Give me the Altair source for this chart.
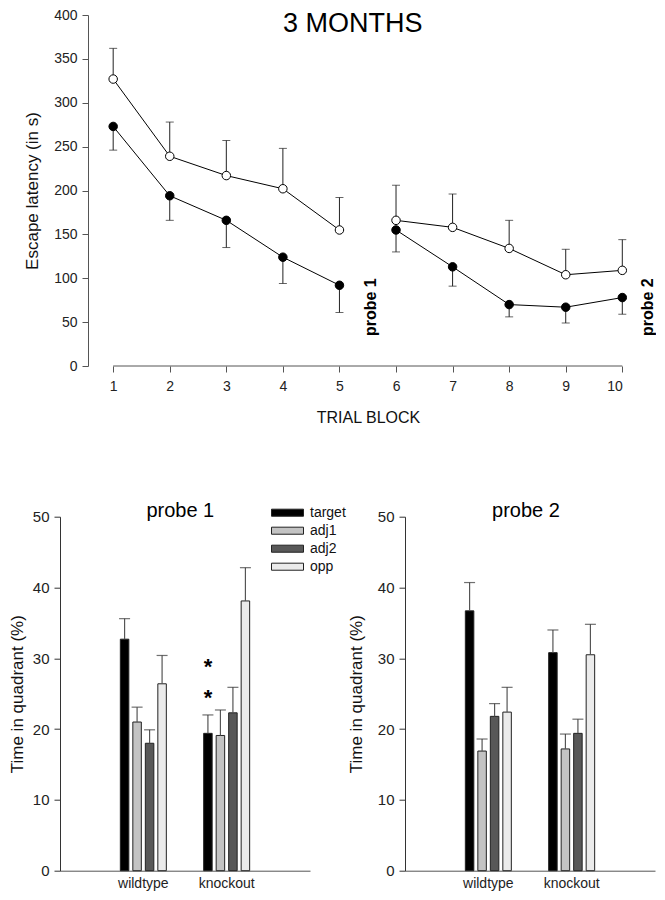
import altair as alt
import pandas as pd

FONT = "Liberation Sans"

# ---------------- top panel data ----------------
trial_blocks = [1, 2, 3, 4, 5, 6, 7, 8, 9, 10]
block_segment = [1, 1, 1, 1, 1, 2, 2, 2, 2, 2]
open_mean = [327, 239, 217, 202, 155, 166, 158, 134, 104, 109]
open_upper = [362, 278, 257, 248, 192, 206, 196, 166, 133, 144]
filled_mean = [273, 194, 166, 124, 92, 155, 113, 70, 67, 78]
filled_lower = [246, 166, 135, 94, 61, 130, 91, 56, 49, 59]
y_ticks_top = [0, 50, 100, 150, 200, 250, 300, 350, 400]

top_title = ["3 MONTHS"]
probe_text = ["probe 1", "probe 2"]
probe_text_x = [5.55, 10.45]
probe_text_y = [67, 67]

# ---------------- bottom panels data ----------------
genotypes = ["wildtype", "knockout"]
quadrants = ["target", "adj1", "adj2", "opp"]
quadrant_colors = ["#000000", "#c3c3c3", "#585858", "#ebebeb"]

p1_wt_mean = [32.7, 21.0, 18.0, 26.4]
p1_wt_upper = [35.6, 23.1, 19.9, 30.4]
p1_ko_mean = [19.4, 19.1, 22.3, 38.1]
p1_ko_upper = [22.0, 22.7, 25.9, 42.8]

p2_wt_mean = [36.7, 16.9, 21.8, 22.4]
p2_wt_upper = [40.7, 18.6, 23.6, 25.9]
p2_ko_mean = [30.8, 17.2, 19.4, 30.5]
p2_ko_upper = [34.0, 19.3, 21.4, 34.8]

asterisk_y = [29.6, 25.1]
y_ticks_bottom = [0, 10, 20, 30, 40, 50]

# ---------------- top panel ----------------
rows = []
for i, b in enumerate(trial_blocks):
    rows.append(dict(block=b, grp="knockout", mean=open_mean[i], bound=open_upper[i],
                     seg=block_segment[i]))
    rows.append(dict(block=b, grp="wildtype", mean=filled_mean[i], bound=filled_lower[i],
                     seg=block_segment[i]))
top_df = pd.DataFrame(rows)

xs = alt.Scale(domain=[0.06, 10], nice=False, zero=False)
ys = alt.Scale(domain=[0, 400], nice=False)

x_enc = alt.X("block:Q", scale=xs, axis=alt.Axis(
    values=trial_blocks, format="d", domain=False, grid=False, tickSize=6, tickColor="#555",
    labelFontSize=14, labelPadding=7, labelColor="#222", title="TRIAL BLOCK",
    titleFontSize=16, titleFontWeight="normal", titleColor="#111",
    titleX=308, titleY=56, titleBaseline="alphabetic", titleAlign="center"))
y_enc = alt.Y("mean:Q", scale=ys, axis=alt.Axis(
    values=y_ticks_top, offset=-28, grid=False, tickSize=6, tickColor="#555",
    domainColor="#555", labelFontSize=14, labelPadding=5, labelColor="#222",
    title="Escape latency (in s)", titleFontSize=17, titleFontWeight="normal",
    titleColor="#111", titlePadding=12))

base = alt.Chart(top_df)

axis_line = alt.Chart(pd.DataFrame({"x": [min(trial_blocks)], "x2": [max(trial_blocks)],
                                    "y": [0]})).mark_rule(color="#555", strokeWidth=1).encode(
    x=alt.X("x:Q", scale=xs), x2="x2:Q", y=alt.Y("y:Q", scale=ys))

err = base.mark_rule(color="#222", strokeWidth=1).encode(x=x_enc, y=y_enc, y2="bound:Q")
caps = base.mark_tick(orient="horizontal", size=8, thickness=1, color="#222").encode(
    x=alt.X("block:Q", scale=xs), y=alt.Y("bound:Q", scale=ys))
lines = base.mark_line(color="#000", strokeWidth=1).encode(
    x=alt.X("block:Q", scale=xs), y=alt.Y("mean:Q", scale=ys), detail=["grp:N", "seg:Q"])
pts = base.mark_point(filled=True, shape="circle", size=72, stroke="#000", strokeWidth=1,
                      opacity=1).encode(
    x=alt.X("block:Q", scale=xs), y=alt.Y("mean:Q", scale=ys),
    fill=alt.Fill("grp:N", scale=alt.Scale(domain=["knockout", "wildtype"],
                                           range=["#ffffff", "#000000"]), legend=None))
probe_lbl = alt.Chart(pd.DataFrame({"t": probe_text, "x": probe_text_x, "y": probe_text_y})).mark_text(
    angle=270, fontSize=16, fontWeight="bold", font=FONT, color="#000").encode(
    x=alt.X("x:Q", scale=xs), y=alt.Y("y:Q", scale=ys), text="t:N")
title_top = alt.Chart(pd.DataFrame({"t": top_title})).mark_text(
    fontSize=27, font=FONT, color="#000", baseline="alphabetic", align="center").encode(
    x=alt.value(292.8), y=alt.value(17), text="t:N")

top = alt.layer(axis_line, err, caps, lines, pts, probe_lbl, title_top).properties(
    width=562.3, height=351)

# ---------------- bottom panels ----------------
def probe_df(wt_mean, wt_upper, ko_mean, ko_upper):
    r = []
    for g, m, u in (("wildtype", wt_mean, wt_upper), ("knockout", ko_mean, ko_upper)):
        for q, mv, uv in zip(quadrants, m, u):
            r.append(dict(genotype=g, quadrant=q, mean=mv, upper=uv))
    return pd.DataFrame(r)


def probe_panel(name, df, show_legend, stars, title_pad, title_x):
    bx = alt.X("genotype:N", sort=genotypes,
               scale=alt.Scale(paddingInner=0.4, paddingOuter=0.7),
               axis=alt.Axis(title=None, labelAngle=0, ticks=False, labelFontSize=14,
                             labelPadding=6, labelColor="#222", domainColor="#555",
                             bandPosition=0.5, labelAlign="center"))
    bxo = alt.XOffset("quadrant:N", sort=quadrants,
                      scale=alt.Scale(paddingInner=0.32, paddingOuter=0.16))
    bys = alt.Scale(domain=[0, 50], nice=False)
    by = alt.Y("mean:Q", scale=bys, axis=alt.Axis(
        values=y_ticks_bottom, grid=False, tickSize=6, tickColor="#333", domainColor="#333",
        labelFontSize=15, labelPadding=5, labelColor="#222",
        title="Time in quadrant (%)", titleFontSize=17, titleFontWeight="normal",
        titleColor="#111", titlePadding=title_pad))
    if show_legend:
        leg = alt.Legend(title=None, orient="none", legendX=211, legendY=-12,
                         symbolType="M-1,-0.22L1,-0.22L1,0.22L-1,0.22Z", symbolSize=1024,
                         symbolStrokeColor="#222", symbolStrokeWidth=1, symbolOpacity=1,
                         clipHeight=16, labelFontSize=14, labelOffset=6, labelColor="#111",
                         rowPadding=2, padding=0)
    else:
        leg = None
    col = alt.Color("quadrant:N", scale=alt.Scale(domain=quadrants, range=quadrant_colors),
                    legend=leg)
    c = alt.Chart(df)
    bars = c.mark_bar(stroke="#222", strokeWidth=1).encode(x=bx, xOffset=bxo, y=by, color=col)
    ebar = c.mark_rule(color="#555", strokeWidth=1.2).encode(
        x=alt.X("genotype:N", sort=genotypes), xOffset=alt.XOffset("quadrant:N", sort=quadrants),
        y=alt.Y("mean:Q", scale=bys), y2="upper:Q")
    ecap = c.mark_tick(size=11, thickness=1.2, color="#333").encode(
        x=alt.X("genotype:N", sort=genotypes), xOffset=alt.XOffset("quadrant:N", sort=quadrants),
        y=alt.Y("upper:Q", scale=bys))
    ttl = alt.Chart(pd.DataFrame({"t": [name]})).mark_text(
        fontSize=20, font=FONT, color="#000", baseline="alphabetic", align="center").encode(
        x=alt.value(title_x), y=alt.value(0), text="t:N")
    layers = [bars, ebar, ecap, ttl]
    if stars:
        sdf = pd.DataFrame({"genotype": ["knockout"] * len(asterisk_y),
                            "quadrant": ["target"] * len(asterisk_y), "y": asterisk_y})
        st = alt.Chart(sdf).mark_text(text="*", fontSize=22, fontWeight="bold", font=FONT,
                                      dy=12.5, baseline="alphabetic", color="#000").encode(
            x=alt.X("genotype:N", sort=genotypes),
            xOffset=alt.XOffset("quadrant:N", sort=quadrants),
            y=alt.Y("y:Q", scale=bys))
        layers.append(st)
    return alt.layer(*layers).properties(width=250, height=354)


p1 = probe_panel("probe 1", probe_df(p1_wt_mean, p1_wt_upper, p1_ko_mean, p1_ko_upper),
                 True, True, 6, 120.3)
p2 = probe_panel("probe 2", probe_df(p2_wt_mean, p2_wt_upper, p2_ko_mean, p2_ko_upper),
                 False, False, 12, 121)

bottom = alt.hconcat(p1, p2, spacing=95, bounds="flush").resolve_scale(color="independent")

chart = alt.vconcat(top, bottom, spacing=150.7, bounds="flush").properties(
    padding=0
).configure(font=FONT).configure_view(stroke=None).configure_axis(
    labelFont=FONT, titleFont=FONT
).configure_legend(labelFont=FONT)

chart.save("out.html", embed_options={"renderer": "svg", "actions": False})
